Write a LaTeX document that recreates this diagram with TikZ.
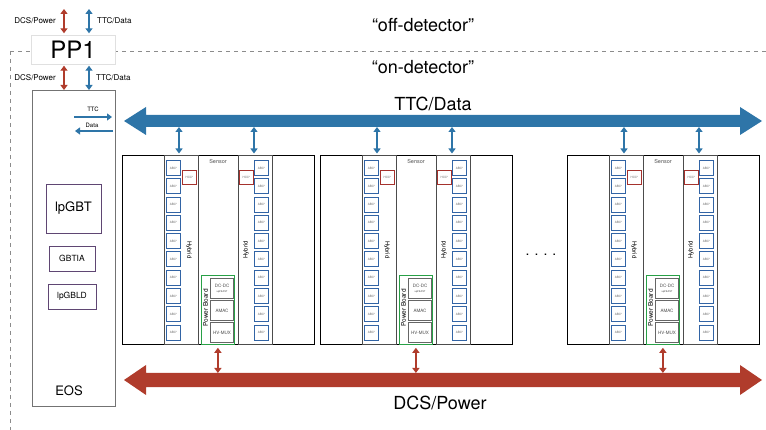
\documentclass[tikz,border=0pt]{standalone}
\usepackage{fontspec}
\setmainfont{TeX Gyre Heros}
\usepackage{tikz}
\usetikzlibrary{
    calc,
    arrows.meta,
    shadows
}

\definecolor{ttcblue}{RGB}{46,117,168}
\definecolor{dcsred}{RGB}{176,60,44}
\definecolor{abcblue}{RGB}{50,100,165}
\definecolor{hccred}{RGB}{165,50,45}
\definecolor{pbgreen}{RGB}{40,160,70}
\definecolor{gbtpurple}{RGB}{95,70,115}

\begin{document}
\begin{tikzpicture}[x=1pt,y=-1pt,every node/.style={inner sep=0pt}]
    \tikzstyle{module}=[draw=black, line width=0.8pt, fill=white, minimum width=192, minimum height=189, anchor=north west]
    \tikzstyle{hybrid}=[draw=black!70, line width=1.2pt, minimum width=34, minimum height=189, anchor=north west]
    \tikzstyle{abc}=[draw=abcblue, line width=0.9pt, fill=white, minimum width=14, minimum height=15, anchor=north west, font=\fontsize{3}{3}\selectfont, text=black!60]
    \tikzstyle{hcc}=[abc, draw=hccred, minimum height=14]
    \tikzstyle{pboard}=[draw=pbgreen, line width=0.8pt, minimum width=33, minimum height=69, anchor=north west]
    \tikzstyle{pbchip}=[draw=black!60, line width=1pt, fill=white, minimum width=23, minimum height=20, anchor=north west, font=\fontsize{4.5}{5}\selectfont, align=center, text=black!70]
    \tikzstyle{gbtchip}=[draw=gbtpurple, line width=0.8pt, fill=white]
    \tikzstyle{ttclink}=[ttcblue, line width=2.2pt, {Triangle[length=5pt,width=7pt]}-{Triangle[length=5pt,width=7pt]}]
    \tikzstyle{dcslink}=[dcsred, line width=2.2pt, {Triangle[length=5pt,width=7pt]}-{Triangle[length=5pt,width=7pt]}]
    \tikzstyle{flow}=[ttcblue, line width=2.2pt, -{Triangle[length=5pt,width=7pt]}]
    \useasboundingbox (0,0) rectangle (766,430);

    % off/on detector boundary
    \draw[black!45, line width=0.8pt, dash pattern=on 4pt off 4pt] (10,51) -- (766,51);
    \draw[black!45, line width=0.8pt, dash pattern=on 4pt off 4pt] (10,51) -- (10,430);
    \node[font=\fontsize{18}{18}\selectfont] (off) at (423,25) {“off-detector”};
    \node[font=\fontsize{18}{18}\selectfont] (on) at (423,67) {“on-detector”};

    \node[draw=black!12, fill=white, minimum width=84, minimum height=29, font=\fontsize{24}{24}\selectfont,
          drop shadow={opacity=0.2, shadow xshift=0.8pt, shadow yshift=-1.2pt}] (pp1) at (73,49.5) {PP1};

    % end of substructure card
    \node[draw=black!55, line width=0.8pt, minimum width=83, minimum height=316, anchor=north west] (eos) at (32,90) {};
    \node[font=\fontsize{13}{13}\selectfont] (eoslbl) at (69,391) {EOS};
    \node[gbtchip, minimum width=55, minimum height=49, font=\fontsize{13}{13}\selectfont] (lpgbt) at (73.5,208.5) {lpGBT};
    \node[gbtchip, minimum width=46, minimum height=25, font=\fontsize{8.5}{9}\selectfont] (gbtia) at (72,258.5) {GBTIA};
    \node[gbtchip, minimum width=48, minimum height=25, font=\fontsize{8.5}{9}\selectfont] (lpgbld) at (72,296.5) {lpGBLD};

    \coordinate (ttcin) at (74,117);
    \coordinate (ttcout) at (112,117);
    \coordinate (datain) at (113,131);
    \coordinate (dataout) at (75,131);
    \draw[flow] (ttcin) -- (ttcout);
    \draw[flow] (datain) -- (dataout);
    \node[font=\fontsize{6}{6}\selectfont] at (93,109) {TTC};
    \node[font=\fontsize{6}{6}\selectfont] at (92,125) {Data};

    % links through PP1
    \coordinate (dcsup) at (64,9);
    \coordinate (ttcup) at (89,9);
    \draw[dcslink, shorten >=1.5pt] (dcsup) -- (dcsup |- pp1.north);
    \draw[ttclink, shorten >=1.5pt] (ttcup) -- (ttcup |- pp1.north);
    \draw[dcslink, shorten <=1.5pt] (pp1.south -| dcsup) -- (eos.north -| dcsup);
    \draw[ttclink, shorten <=1.5pt] (pp1.south -| ttcup) -- (eos.north -| ttcup);
    \node[font=\fontsize{8}{8}\selectfont, anchor=east] at (56,21) {DCS/Power};
    \node[font=\fontsize{8}{8}\selectfont, anchor=west] at (97,21) {TTC/Data};
    \node[font=\fontsize{8}{8}\selectfont, anchor=east] at (56,78) {DCS/Power};
    \node[font=\fontsize{8}{8}\selectfont, anchor=west] at (96,78) {TTC/Data};

    % TTC/Data bus
    \coordinate (ttcW) at (124,121);
    \coordinate (ttcE) at (762,121);
    \coordinate (ttcS) at (124,127);
    \fill[ttcblue] (ttcW) -- ++(22,-14) -- ++(0,8) -- ($(ttcE)+(-22,-6)$) -- ++(0,-8) -- (ttcE)
        -- ++(-22,14) -- ++(0,-8) -- ($(ttcW)+(22,6)$) -- ++(0,8) -- cycle;
    \node[font=\fontsize{18}{18}\selectfont] (ttclbl) at (433,104) {TTC/Data};

    % DCS/Power bus
    \coordinate (dcsW) at (124,380);
    \coordinate (dcsE) at (762,380);
    \coordinate (dcsN) at (124,373);
    \fill[dcsred] (dcsW) -- ++(22,-15) -- ++(0,8) -- ($(dcsE)+(-22,-7)$) -- ++(0,-8) -- (dcsE)
        -- ++(-22,15) -- ++(0,-8) -- ($(dcsW)+(22,7)$) -- ++(0,8) -- cycle;
    \node[font=\fontsize{18}{18}\selectfont] (dcslbl) at (440,403) {DCS/Power};

    % modules
    \foreach \mx [count=\i] in {122,320,567} {
        \node[module] (mod\i) at (\mx,155) {};
        \node[hybrid] (hybl\i) at (\mx+42,155) {};
        \node[hybrid] (hybr\i) at (\mx+116,155) {};
        \node[font=\fontsize{5.5}{5.5}\selectfont, text=black!70] (sens\i) at (\mx+96,161) {Sensor};
        \foreach \k in {0,...,9} {
            \node[abc] (abcl\i\k) at (\mx+44,160+18.3*\k) {ABC*};
            \node[abc] (abcr\i\k) at (\mx+132,160+18.3*\k) {ABC*};
        }
        \node[hcc] (hccl\i) at (\mx+60,170) {HCC*};
        \node[hcc] (hccr\i) at (\mx+117,170) {HCC*};
        \node[rotate=-90, font=\fontsize{6}{6}\selectfont] at (\mx+67,250) {Hybrid};
        \node[rotate=90, font=\fontsize{6}{6}\selectfont] at (\mx+124,250) {Hybrid};
        \node[pboard] (pb\i) at (\mx+79,275) {};
        \node[rotate=90, font=\fontsize{6.5}{6.5}\selectfont] at (\mx+83.5,308) {Power Board};
        \node[pbchip] (dcdc\i) at (\mx+88,278) {DC-DC\\[-0.5pt]{\fontsize{2.5}{3}\selectfont upFEAST}};
        \node[pbchip] (amac\i) at (\mx+88,300) {AMAC};
        \node[pbchip] (hvmux\i) at (\mx+88,322) {HV-MUX};
        \coordinate (tl\i) at ($(mod\i.north west)+(57,0)$);
        \coordinate (tr\i) at ($(mod\i.north west)+(132,0)$);
        \draw[ttclink, shorten >=1.5pt] (ttcS -| tl\i) -- (tl\i);
        \draw[ttclink, shorten >=1.5pt] (ttcS -| tr\i) -- (tr\i);
        \draw[dcslink, shorten <=3pt] (mod\i.south -| pb\i) -- (dcsN -| pb\i);
    }

    \node[font=\fontsize{14}{14}\selectfont] (dots) at (541,255) {.\hspace{5pt}.\hspace{5pt}.\hspace{5pt}.};
\end{tikzpicture}
\end{document}
